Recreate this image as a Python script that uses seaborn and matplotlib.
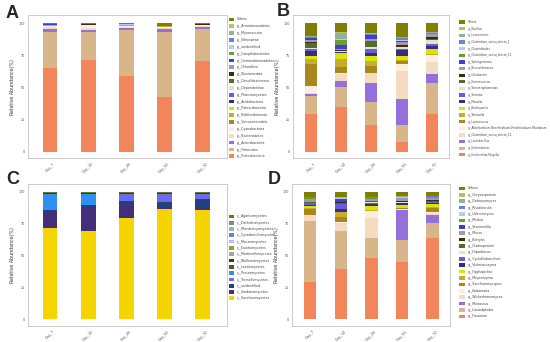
import numpy as np
import matplotlib
matplotlib.use('Agg')  # no display
import matplotlib.pyplot as plt
from matplotlib.patches import Patch
import seaborn as sns

samples = ['Day_7', 'Day_14', 'Day_28', 'Day_56', 'Day_70']

# ---- panel A: phylum level (bottom -> top of the stack) ----
phylum_names = [
    'p__Proteobacteria', 'p__Firmicutes', 'p__Actinobacteria', 'p__Bacteroidetes',
    'p__Cyanobacteria', 'p__Verrucomicrobia', 'p__Bdellovibrionota', 'p__Patescibacteria',
    'p__Acidobacteria', 'p__Planctomycetes', 'p__Dependentiae', 'p__Desulfobacterota',
    'p__Elusimicrobia', 'p__Chloroflexi', 'p__Gemmatimonadetes', 'p__Campilobacterota',
    'p__unidentified', 'p__Nitrospirae', 'p__Myxococcota', 'p__Armatimonadetes', 'Others',
]
phylum_values = [
    [65.4, 71.8, 59.0, 42.3, 70.5],
    [28.2, 21.8, 35.9, 51.3, 25.0],
    [1.8, 1.3, 1.3, 2.0, 1.5],
    [1.6, 1.2, 1.0, 0.9, 0.8],
    [1.2, 2.4, 1.0, 0.9, 0.7],
    [0.05, 0.05, 0.05, 0.05, 0.05],
    [0.5, 0.3, 0.4, 0.1, 0.3],
    [0.05, 0.05, 0.05, 0.05, 0.05],
    [0.05, 0.05, 0.05, 0.05, 0.05],
    [0.05, 0.05, 0.05, 0.05, 0.05],
    [0.05, 0.05, 0.05, 0.05, 0.05],
    [0.05, 0.05, 0.05, 0.05, 0.05],
    [0.05, 0.05, 0.05, 0.05, 0.05],
    [0.05, 0.05, 0.05, 0.05, 0.05],
    [0.05, 0.05, 0.05, 0.05, 0.05],
    [0.05, 0.05, 0.05, 0.05, 0.05],
    [0.05, 0.05, 0.05, 0.05, 0.05],
    [0.05, 0.05, 0.05, 0.05, 0.05],
    [0.05, 0.05, 0.05, 0.05, 0.05],
    [0.05, 0.05, 0.05, 0.05, 0.05],
    [0.6, 0.5, 0.7, 1.8, 0.5],
]

# ---- panel B: bacterial genera ----
genus_b_names = [
    'g__Escherichia-Shigella', 'g__Enterobacter', 'g__Lactobacillus',
    'g__Clostridium_sensu_stricto_12',
    'g__Allorhizobium-Neorhizobium-Pararhizobium-Rhizobium',
    'g__Lactococcus', 'g__Weissella', 'g__Buttiauxella', 'g__Massilia', 'g__Serratia',
    'g__Stenotrophomonas', 'g__Enterococcus', 'g__Citrobacter', 'g__Brevundimonas',
    'g__Sphingomonas', 'g__Clostridium_sensu_stricto_11', 'g__Clostridioides',
    'g__Clostridium_sensu_stricto_1', 'g__Leuconostoc', 'g__Bacillus', 'Others',
]
genus_b_values = [
    [29.6, 35.0, 20.6, 7.7, 29.2],
    [14.2, 15.5, 18.5, 12.9, 24.0],
    [1.3, 4.4, 14.7, 20.6, 7.7],
    [1.0, 5.9, 7.2, 21.9, 9.0],
    [5.4, 0.5, 0.5, 5.2, 5.2],
    [16.8, 4.4, 5.2, 2.6, 0.5],
    [3.9, 6.5, 3.9, 0.5, 0.5],
    [2.6, 4.6, 3.9, 3.1, 3.9],
    [3.9, 0.5, 2.6, 4.6, 2.0],
    [1.0, 0.5, 2.6, 1.3, 2.0],
    [0.8, 0.5, 2.0, 1.0, 3.4],
    [3.9, 0.5, 4.4, 0.5, 0.5],
    [1.0, 0.5, 0.5, 1.3, 1.8],
    [1.5, 0.5, 1.5, 2.6, 1.8],
    [1.8, 3.1, 2.5, 0.5, 0.3],
    [0.3, 4.1, 0.3, 0.3, 0.3],
    [0.3, 0.5, 0.3, 0.3, 0.3],
    [0.3, 0.5, 0.3, 2.0, 0.3],
    [0.3, 4.5, 0.3, 0.3, 0.3],
    [0.5, 0.5, 0.3, 0.3, 0.3],
    [9.6, 6.9, 7.9, 10.5, 6.7],
]

# ---- panel C: fungal classes ----
class_names = [
    'c__Saccharomycetes', 'c__Sordariomycetes', 'c__unidentified', 'c__Tremellomycetes',
    'c__Pezizomycetes', 'c__Leotiomycetes', 'c__Wallemiomycetes', 'c__Mortierellomycetes',
    'c__Eurotiomycetes', 'c__Mucoromycetes', 'c__Cystobasidiomycetes',
    'c__Microbotryomycetes', 'c__Dothideomycetes', 'c__Agaricomycetes',
]
class_values = [
    [71.5, 68.9, 79.7, 86.6, 85.6],
    [13.6, 18.0, 9.0, 1.0, 1.5],
    [0.5, 2.6, 3.9, 4.0, 7.5],
    [0.3, 0.3, 5.6, 6.6, 3.6],
    [12.6, 8.7, 0.3, 0.3, 0.3],
    [0.05, 0.05, 0.05, 0.05, 0.05],
    [0.05, 0.05, 0.05, 0.05, 0.05],
    [0.05, 0.05, 0.05, 0.05, 0.05],
    [0.05, 0.05, 0.05, 0.05, 0.05],
    [0.05, 0.05, 0.05, 0.05, 0.05],
    [0.05, 0.05, 0.05, 0.05, 0.05],
    [0.05, 0.05, 0.05, 0.05, 0.05],
    [0.4, 0.4, 0.4, 0.4, 0.4],
    [0.75, 0.75, 0.75, 0.75, 0.75],
]

# ---- panel D: fungal genera ----
genus_d_names = [
    'g__Fusarium', 'g__Lasiodiplodia', 'g__Monascus', 'g__Wickerhamomyces', 'g__Kodamaea',
    'g__Saccharomycopsis', 'g__Meyerozyma', 'g__Hyphopichia', 'g__Vishniacozyma',
    'g__Cystofilobasidium', 'g__Dipodascus', 'g__Cladosporium', 'g__Botrytis', 'g__Mucor',
    'g__Starmerella', 'g__Mrakia', 'g__Udeniomyces', 'g__Rhodotorula', 'g__Debaryomyces',
    'g__Chrysosporium', 'Others',
]
genus_d_values = [
    [29.1, 39.1, 48.3, 44.9, 63.9],
    [47.8, 30.4, 15.5, 17.3, 11.6],
    [0.0, 0.0, 0.0, 23.2, 6.4],
    [4.6, 5.9, 15.5, 0.5, 1.3],
    [0.5, 0.5, 5.2, 0.5, 0.5],
    [4.4, 3.9, 0.5, 0.5, 3.9],
    [0.5, 3.9, 0.5, 0.5, 0.5],
    [1.8, 0.5, 3.4, 2.0, 2.0],
    [0.5, 2.0, 1.3, 1.5, 1.3],
    [1.8, 3.9, 1.3, 0.5, 0.5],
    [0.5, 0.5, 0.5, 0.3, 0.3],
    [0.5, 0.5, 0.5, 0.3, 0.3],
    [0.3, 0.5, 0.5, 1.0, 1.3],
    [2.0, 0.5, 1.3, 1.8, 1.3],
    [0.3, 2.0, 0.3, 0.3, 0.3],
    [0.3, 0.3, 0.3, 0.3, 0.3],
    [0.3, 0.3, 0.3, 0.3, 0.3],
    [0.3, 0.3, 0.3, 0.3, 0.3],
    [0.3, 0.3, 0.3, 0.3, 0.3],
    [0.3, 0.3, 0.3, 0.3, 0.3],
    [3.9, 4.4, 3.9, 3.4, 3.1],
]

# shared palette for A, B, D (bottom -> top)
palette21 = [
    '#f2855a', '#d8b68a', '#9370db', '#f5dcc0', '#fbeedc', '#a8881c', '#c9ac2c',
    '#d6e800', '#3e2b7f', '#6a5be0', '#dce9c6', '#556b2f', '#3b300c', '#a696ae',
    '#3d3fd2', '#6e9c34', '#b9c9f3', '#6a82d2', '#8fb29c', '#b6bf74', '#7f7f00',
]
palette14 = [
    '#f6d400', '#452e7a', '#24407e', '#6b6af0', '#2f8ff5', '#4b5a22', '#3a3a14',
    '#a5a0a8', '#7ea444', '#b8bff4', '#6a7ed6', '#9eb4a4', '#8a8a70', '#6b7a10',
]

sns.set_style('white')
plt.rcParams['font.family'] = ['DejaVu Sans']

fig = plt.figure(figsize=(5.5, 3.42), dpi=100)
W, H = 550.0, 342.0


def px_axes(left, top, right, bottom):
    return fig.add_axes([left / W, 1 - bottom / H, (right - left) / W, (bottom - top) / H])


def draw_panel(ax, names, values, colors, xlim, ylim, width,
               leg_x, leg_top, swatch, spacing, leg_fs=2.3):
    cum = np.cumsum(np.array(values), axis=0)
    # overlapping cumulative bars, tallest first
    for i in range(len(names) - 1, -1, -1):
        sns.barplot(x=samples, y=cum[i], color=colors[i], width=width, saturation=1,
                    linewidth=0, errorbar=None, ax=ax)
    ax.set_xlim(*xlim)
    ax.set_ylim(*ylim)
    ax.set_yticks([0, 25, 50, 75, 100])
    ax.set_yticklabels(['0', '25', '50', '75', '100'], fontsize=2.4)
    ax.set_xticks(range(len(samples)))
    ax.set_xticklabels(samples, fontsize=2.6, rotation=45, ha='center')
    ax.tick_params(axis='both', length=1.5, width=0.4, pad=1, colors='#999999')
    for lab in ax.get_xticklabels() + ax.get_yticklabels():
        lab.set_color('#555555')
    ax.set_xlabel('')
    ax.set_ylabel('Relative Abundance(%)', fontsize=3.4, labelpad=2.5, color='#333333')
    for s in ax.spines.values():
        s.set_color('#c4c4c4')
        s.set_linewidth(0.6)

    handles = [Patch(facecolor=colors[i], edgecolor='none', label=names[i])
               for i in range(len(names) - 1, -1, -1)]
    fig.legend(handles=handles, loc='upper left',
               bbox_to_anchor=(leg_x / W, 1 - leg_top / H),
               frameon=False, fontsize=leg_fs, handlelength=swatch, handleheight=1.4,
               labelspacing=spacing, handletextpad=0.9, borderpad=0, borderaxespad=0,
               labelcolor='#444444')


axA = px_axes(28.3, 15, 226.7, 158.3)
draw_panel(axA, phylum_names, phylum_values, palette21, (-0.57, 4.63), (-5.1, 106.5),
           0.39, 229, 17.5, 1.5, 0.89)

axB = px_axes(293.3, 15, 449, 158.3)
draw_panel(axB, genus_b_names, genus_b_values, palette21, (-0.59, 4.57), (-5.1, 106.5),
           0.4, 459, 20, 2.2, 0.95, leg_fs=2.0)

axC = px_axes(28.3, 184.3, 226.7, 326)
draw_panel(axC, class_names, class_values, palette14, (-0.57, 4.63), (-5.25, 105.8),
           0.39, 229, 214.5, 1.5, 0.72)

axD = px_axes(292.3, 184.3, 450, 326)
draw_panel(axD, genus_d_names, genus_d_values, palette21, (-0.59, 4.57), (-5.25, 105.8),
           0.4, 459, 186.5, 1.9, 0.75)

for letter, x, y in [('A', 6, 5), ('B', 277, 3), ('C', 6, 171), ('D', 268, 171)]:
    fig.text(x / W, 1 - y / H, letter, fontsize=13, fontweight='bold',
             family=['Liberation Sans', 'DejaVu Sans'], va='top', ha='left')

fig.savefig('out.png', dpi=100)
